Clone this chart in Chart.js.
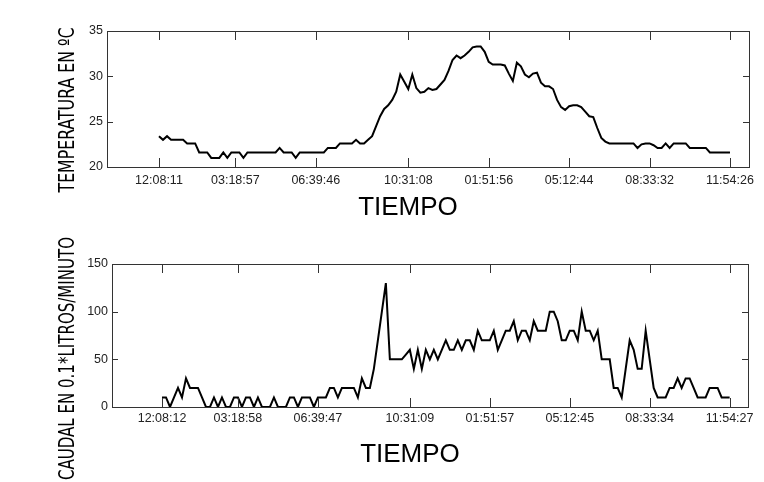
<!DOCTYPE html>
<html>
<head>
<meta charset="utf-8">
<script src="https://cdn.jsdelivr.net/npm/chart.js@4.4.1/dist/chart.umd.min.js"></script>
<style>
html, body { margin: 0; padding: 0; background: #fff; }
#wrap { position: relative; width: 764px; height: 482px; }
canvas { position: absolute; left: 0; }
#temp { top: 0; }
#flow { top: 225px; }
</style>
</head>
<body>
<div id="wrap">
  <canvas id="temp" width="764" height="225"></canvas>
  <canvas id="flow" width="764" height="257"></canvas>
</div>
<script>
const NARROW = "'Liberation Sans Narrow', 'DejaVu Sans Condensed', sans-serif";
const TICKFONT = "'Liberation Sans', Arial, sans-serif";

// tick labels
const tempTickLabels = ['12:08:11', '03:18:57', '06:39:46', '10:31:08', '01:51:56', '05:12:44', '08:33:32', '11:54:26'];
const flowTickLabels = ['12:08:12', '03:18:58', '06:39:47', '10:31:09', '01:51:57', '05:12:45', '08:33:34', '11:54:27'];
const tempTicksY = [20, 25, 30, 35];
const flowTicksY = [0, 50, 100, 150];

// temperature, one sample about every 10 minutes
const tempValues = [
  23.4, 23.0, 23.4, 23.0, 23.0, 23.0, 23.0, 22.6, 22.6, 22.6,
  21.6, 21.6, 21.6, 21.0, 21.0, 21.0, 21.6, 21.0, 21.6, 21.6,
  21.6, 21.0, 21.6, 21.6, 21.6, 21.6, 21.6, 21.6, 21.6, 21.6,
  22.1, 21.6, 21.6, 21.6, 21.0, 21.6, 21.6, 21.6, 21.6, 21.6,
  21.6, 21.6, 22.1, 22.1, 22.1, 22.6, 22.6, 22.6, 22.6, 23.0,
  22.6, 22.6, 23.0, 23.4, 24.5, 25.6, 26.4, 26.8, 27.4, 28.3,
  30.2, 29.4, 28.6, 30.2, 28.7, 28.2, 28.3, 28.7, 28.5, 28.6,
  29.1, 29.6, 30.6, 31.8, 32.3, 32.0, 32.3, 32.7, 33.2, 33.3,
  33.3, 32.7, 31.6, 31.3, 31.3, 31.3, 31.2, 30.3, 29.5, 31.5,
  31.1, 30.2, 29.9, 30.3, 30.4, 29.3, 28.9, 28.9, 28.6, 27.4,
  26.6, 26.3, 26.7, 26.8, 26.8, 26.6, 26.1, 25.6, 25.5, 24.3,
  23.2, 22.8, 22.6, 22.6, 22.6, 22.6, 22.6, 22.6, 22.6, 22.1,
  22.5, 22.6, 22.6, 22.4, 22.1, 22.1, 22.6, 22.1, 22.6, 22.6,
  22.6, 22.6, 22.1, 22.1, 22.1, 22.1, 22.1, 21.6, 21.6, 21.6,
  21.6, 21.6, 21.6
];

// flow (0.1 l/min), same sampling
const flowValues = [
  10, 10, 0, 10, 20, 10, 30, 20, 20, 20,
  10, 0, 0, 10, 0, 10, 0, 0, 10, 10,
  0, 10, 10, 0, 10, 0, 0, 0, 10, 0,
  0, 0, 10, 10, 0, 10, 10, 10, 0, 10,
  10, 10, 20, 20, 10, 20, 20, 20, 20, 10,
  30, 20, 20, 40, 70, 100, 130, 50, 50, 50,
  50, 55, 60, 40, 60, 40, 60, 50, 60, 50,
  60, 70, 60, 60, 70, 60, 70, 70, 60, 80,
  70, 70, 70, 80, 60, 70, 80, 80, 90, 70,
  80, 80, 70, 90, 80, 80, 80, 100, 100, 90,
  70, 70, 80, 80, 70, 100, 80, 80, 70, 80,
  50, 50, 50, 20, 20, 10, 40, 70, 60, 40,
  40, 80, 50, 20, 10, 10, 10, 20, 20, 30,
  20, 30, 30, 20, 10, 10, 10, 20, 20, 20,
  10, 10, 10
];

// "hh:mm:ss" on a 12 hour clock -> seconds, running on past the wrap
function toSeconds(labels) {
  let prev = -1, offset = 0;
  return labels.map(s => {
    const [h, m, sec] = s.split(':').map(Number);
    let t = (h % 12) * 3600 + m * 60 + sec + offset;
    if (t < prev) { offset += 43200; t += 43200; }
    prev = t;
    return t;
  });
}

function toPoints(values, tickSecs) {
  const t0 = tickSecs[0];
  const step = (tickSecs[tickSecs.length - 1] - t0) / (values.length - 1);
  return values.map((v, i) => ({ x: t0 + i * step, y: v }));
}

// box round the plot with ticks pointing inwards, and the axis titles
const frame = {
  id: 'frame',
  afterDraw(chart, args, opts) {
    const { ctx, chartArea: a, scales } = chart;
    ctx.save();
    ctx.strokeStyle = '#333';
    ctx.lineWidth = 1;
    ctx.strokeRect(Math.round(a.left) + 0.5, Math.round(a.top) + 0.5,
                   Math.round(a.right - a.left), Math.round(a.bottom - a.top));
    ctx.beginPath();
    scales.x.ticks.forEach(t => {
      const px = Math.round(scales.x.getPixelForValue(t.value)) + 0.5;
      ctx.moveTo(px, a.top); ctx.lineTo(px, a.top + 9);
      ctx.moveTo(px, a.bottom); ctx.lineTo(px, a.bottom - 9);
    });
    scales.y.ticks.forEach(t => {
      const py = Math.round(scales.y.getPixelForValue(t.value)) + 0.5;
      ctx.moveTo(a.left, py); ctx.lineTo(a.left + 6, py);
      ctx.moveTo(a.right, py); ctx.lineTo(a.right - 6, py);
    });
    ctx.stroke();

    ctx.fillStyle = '#000';
    ctx.font = "26px 'Liberation Sans', Arial, sans-serif";
    ctx.textAlign = 'center';
    ctx.textBaseline = 'alphabetic';
    ctx.fillText(opts.xTitle.text, opts.xTitle.cx, opts.xTitle.base);

    ctx.font = '22px ' + NARROW;
    const w = ctx.measureText(opts.yTitle.text).width;
    ctx.translate(opts.yTitle.base, opts.yTitle.cy);
    ctx.rotate(-Math.PI / 2);
    ctx.scale(opts.yTitle.len / w, 1);
    ctx.fillText(opts.yTitle.text, 0, 0);
    ctx.restore();
  }
};

function makeChart(id, values, tickLabels, yTicks, box) {
  const tickSecs = toSeconds(tickLabels);
  const tEnd = tickSecs[tickSecs.length - 1];
  return new Chart(document.getElementById(id), {
    type: 'line',
    data: {
      datasets: [{
        data: toPoints(values, tickSecs),
        borderColor: '#000',
        borderWidth: 2,
        pointRadius: 0,
        tension: 0,
        fill: false
      }]
    },
    options: {
      responsive: false,
      animation: false,
      events: [],
      layout: { padding: { top: box.top, right: box.right, left: 0, bottom: 0 } },
      scales: {
        x: {
          type: 'linear',
          min: tickSecs[0] - box.before,
          max: tEnd + box.after,
          afterBuildTicks: s => { s.ticks = tickSecs.map(v => ({ value: v })); },
          afterFit: s => { s.height = box.xHeight; },
          grid: { display: false, drawTicks: false },
          border: { display: false },
          ticks: {
            autoSkip: false,
            maxRotation: 0,
            minRotation: 0,
            padding: box.xPad,
            color: '#222',
            font: { family: TICKFONT, size: 12.5 },
            callback: (v, i) => tickLabels[i]
          }
        },
        y: {
          min: yTicks[0],
          max: yTicks[yTicks.length - 1],
          afterBuildTicks: s => { s.ticks = yTicks.map(v => ({ value: v })); },
          afterFit: s => { s.width = box.left; },
          grid: { display: false, drawTicks: false },
          border: { display: false },
          ticks: {
            padding: 4,
            color: '#222',
            font: { family: TICKFONT, size: 12.5 }
          }
        }
      },
      plugins: {
        legend: { display: false },
        tooltip: { enabled: false },
        frame: { xTitle: box.xTitle, yTitle: box.yTitle }
      }
    },
    plugins: [frame]
  });
}

makeChart('temp', tempValues, tempTickLabels, tempTicksY, {
  top: 31, right: 15, left: 107, xHeight: 58, xPad: 6,
  before: 7790, after: 2850,
  xTitle: { text: 'TIEMPO', cx: 408, base: 215 },
  yTitle: { text: 'TEMPERATURA EN ºC', cy: 110, base: 74, len: 165 }
});

makeChart('flow', flowValues, flowTickLabels, flowTicksY, {
  top: 39, right: 16, left: 112, xHeight: 75, xPad: 4,
  before: 7540, after: 2770,
  xTitle: { text: 'TIEMPO', cx: 410, base: 237 },
  yTitle: { text: 'CAUDAL EN 0.1*LITROS/MINUTO', cy: 133.5, base: 74, len: 243 }
});
</script>
</body>
</html>
